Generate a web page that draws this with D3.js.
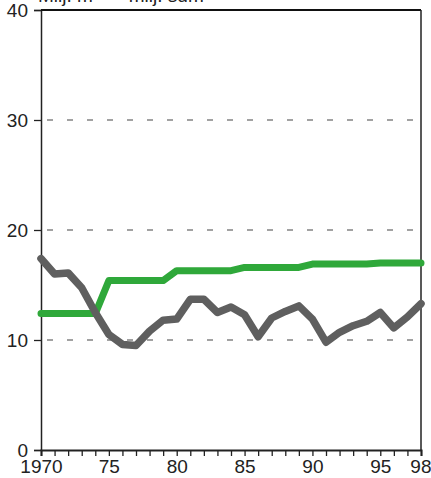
<!DOCTYPE html>
<html>
<head>
<meta charset="utf-8">
<script src="https://cdn.jsdelivr.net/npm/d3@7"></script>
<style>
  html, body { margin: 0; padding: 0; background: #fff; }
  svg { display: block; font-family: "Liberation Sans", Arial, Helvetica, sans-serif; }
</style>
</head>
<body>
<svg id="chart" width="431" height="478"></svg>
<script>
const years = d3.range(1970, 1999);
const greenValues = [12.4, 12.4, 12.4, 12.4, 12.4, 15.4, 15.4, 15.4, 15.4, 15.4,
  16.3, 16.3, 16.3, 16.3, 16.3, 16.6, 16.6, 16.6, 16.6, 16.6,
  16.9, 16.9, 16.9, 16.9, 16.9, 17.0, 17.0, 17.0, 17.0];
const greyValues = [17.4, 16.0, 16.1, 14.75, 12.5, 10.5, 9.6, 9.5, 10.8, 11.8,
  11.9, 13.7, 13.7, 12.5, 13.0, 12.3, 10.3, 12.0, 12.6, 13.1,
  11.9, 9.8, 10.7, 11.3, 11.7, 12.5, 11.1, 12.1, 13.3];
const yTicks = [0, 10, 20, 30, 40];
const xTickYears = [1970, 1975, 1980, 1985, 1990, 1995, 1998];
const xTickLabels = ["1970", "75", "80", "85", "90", "95", "98"];
const headerText = "Milj. m³ — milj. sdm";

const svg = d3.select("#chart");
const x = d3.scaleLinear().domain([1970, 1998]).range([41, 421]);
const y = d3.scaleLinear().domain([0, 40]).range([450, 10]);

// header (cut off at top, as in the reference)
svg.append("text").attr("x", 38).attr("y", 2).attr("font-size", 19).attr("fill", "#222").text(headerText);

// gridlines
svg.append("g").selectAll("line").data([10, 20, 30]).join("line")
  .attr("x1", x(1970) + 6).attr("x2", x(1998))
  .attr("y1", d => y(d)).attr("y2", d => y(d))
  .attr("stroke", "#444").attr("stroke-width", 1.2).attr("stroke-dasharray", "6,14");

// y axis
const yAxis = svg.append("g").attr("transform", `translate(${x(1970)},0)`)
  .call(d3.axisLeft(y).tickValues(yTicks).tickSize(7).tickPadding(6).tickFormat(d3.format("d")));
yAxis.select(".domain").attr("stroke", "#222").attr("stroke-width", 1.5);
yAxis.selectAll(".tick line").attr("stroke", "#222").attr("stroke-width", 1.3);
yAxis.selectAll("text").attr("font-size", 19).attr("fill", "#222").attr("font-family", "Liberation Sans, Arial, sans-serif");

// x axis minor ticks
const xAxisMinor = svg.append("g").attr("transform", `translate(0,${y(0)})`)
  .call(d3.axisBottom(x).tickValues(years).tickSize(6).tickFormat(""));
xAxisMinor.select(".domain").attr("stroke", "#222").attr("stroke-width", 2);
xAxisMinor.selectAll(".tick line").attr("stroke", "#222").attr("stroke-width", 1.3);

// x axis labels
const xAxisLabels = svg.append("g").attr("transform", `translate(0,${y(0)})`)
  .call(d3.axisBottom(x).tickValues(xTickYears).tickSize(0).tickPadding(10)
    .tickFormat((d, i) => xTickLabels[i]));
xAxisLabels.select(".domain").remove();
xAxisLabels.selectAll("text").attr("font-size", 19).attr("fill", "#222").attr("font-family", "Liberation Sans, Arial, sans-serif");
xAxisLabels.selectAll(".tick").filter(d => d === 1998).select("text").attr("text-anchor", "end").attr("dx", 10);

// top and right borders
svg.append("line").attr("x1", x(1970)).attr("x2", x(1998)).attr("y1", y(40)).attr("y2", y(40))
  .attr("stroke", "#111").attr("stroke-width", 2);
svg.append("line").attr("x1", x(1998)).attr("x2", x(1998)).attr("y1", y(40)).attr("y2", y(0))
  .attr("stroke", "#222").attr("stroke-width", 1.5);

const line = d3.line().x((d, i) => x(years[i])).y(d => y(d));

svg.append("path").datum(greenValues).attr("d", line)
  .attr("fill", "none").attr("stroke", "#2fa83a").attr("stroke-width", 7)
  .attr("stroke-linejoin", "round").attr("stroke-linecap", "round");

svg.append("path").datum(greyValues).attr("d", line)
  .attr("fill", "none").attr("stroke", "#5f5f5f").attr("stroke-width", 7.5)
  .attr("stroke-linejoin", "round").attr("stroke-linecap", "round");
</script>
</body>
</html>
